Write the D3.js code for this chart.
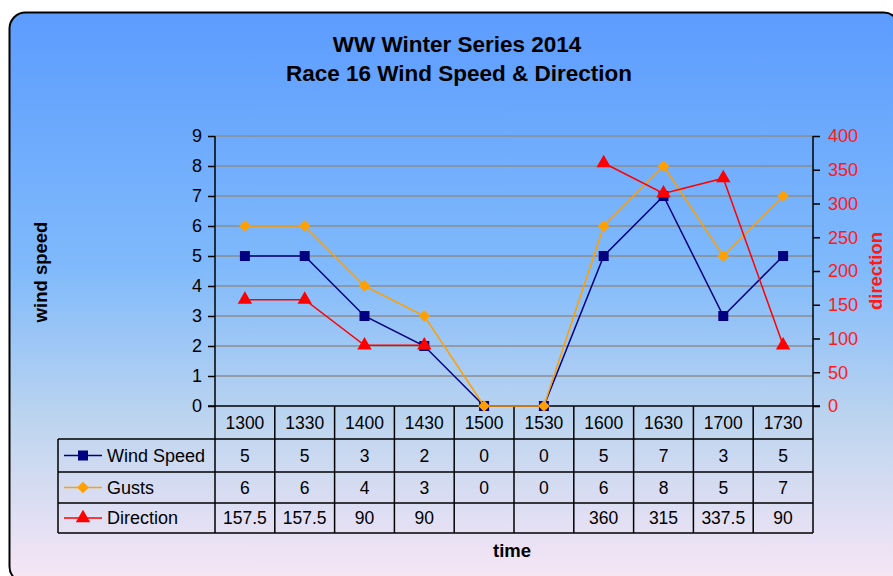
<!DOCTYPE html>
<meta charset="utf-8">
<script src="https://d3js.org/d3.v7.min.js"></script>
<style>
  body { margin: 0; background: #fff; }
  text { font-family: Arial, "Liberation Sans", sans-serif; }
</style>
<div id="chart"></div>
<script>

// data
var times = ["1300", "1330", "1400", "1430", "1500", "1530", "1600", "1630", "1700", "1730"];
var windSpeed = [5, 5, 3, 2, 0, 0, 5, 7, 3, 5];
var gusts = [6, 6, 4, 3, 0, 0, 6, 8, 5, 7];
var direction = [157.5, 157.5, 90, 90, null, null, 360, 315, 337.5, 90];
var speedTicks = [0, 1, 2, 3, 4, 5, 6, 7, 8, 9];
var dirTicks = [0, 50, 100, 150, 200, 250, 300, 350, 400];

var series = [
  { name: "Wind Speed", values: windSpeed, color: "#000080", symbol: d3.symbolSquare, size: 100, rot: 0, axis: "left" },
  { name: "Gusts", values: gusts, color: "#ff9f00", symbol: d3.symbolSquare, size: 68, rot: 45, axis: "left" },
  { name: "Direction", values: direction, color: "#ff0000", symbol: d3.symbolTriangle, size: 90, rot: 0, axis: "right" }
];

var width = 893, height = 576;
var plotL = 215, plotR = 813, plotT = 136, plotB = 406;
var rowH = [33, 33, 31, 30]; // header, wind, gusts, direction
var tableLeft = 58;

var svg = d3.select("#chart").append("svg")
  .attr("width", width)
  .attr("height", height);

// background gradient
var grad = svg.append("defs").append("linearGradient")
  .attr("id", "bg").attr("x1", 0).attr("y1", 0).attr("x2", 0).attr("y2", 1);
grad.append("stop").attr("offset", 0).attr("stop-color", "#5c9cfe");
grad.append("stop").attr("offset", 0.45).attr("stop-color", "#80bafb");
grad.append("stop").attr("offset", 0.72).attr("stop-color", "#bed5ef");
grad.append("stop").attr("offset", 1).attr("stop-color", "#f8e6f6");

svg.append("rect")
  .attr("x", 9.5).attr("y", 12.5)
  .attr("width", 890).attr("height", 570)
  .attr("rx", 16)
  .attr("fill", "url(#bg)")
  .attr("stroke", "#000")
  .attr("stroke-width", 2);

// scales
var x = d3.scaleBand().domain(times).range([plotL, plotR]);
var y = d3.scaleLinear().domain([0, 9]).range([plotB, plotT]);
var y2 = d3.scaleLinear().domain([0, 400]).range([plotB, plotT]);

// gridlines
svg.append("g")
  .selectAll("line")
  .data(speedTicks.filter(function(d) { return d > 0; }))
  .enter().append("line")
    .attr("x1", plotL).attr("x2", plotR)
    .attr("y1", function(d) { return y(d); })
    .attr("y2", function(d) { return y(d); })
    .attr("stroke", "#8c8c8c")
    .attr("stroke-width", 1.5);

// left axis
var leftAxis = svg.append("g")
  .attr("transform", "translate(" + plotL + ",0)")
  .call(d3.axisLeft(y).tickValues(speedTicks).tickSize(7).tickPadding(6));
leftAxis.select(".domain").remove();
leftAxis.selectAll("line").attr("stroke", "#000").attr("stroke-width", 1.5);
leftAxis.selectAll("text").attr("font-size", 18).attr("fill", "#000");

// right axis
var rightAxis = svg.append("g")
  .attr("transform", "translate(" + plotR + ",0)")
  .call(d3.axisRight(y2).tickValues(dirTicks).tickSize(7).tickPadding(8));
rightAxis.select(".domain").remove();
rightAxis.selectAll("line").attr("stroke", "#000").attr("stroke-width", 1.5);
rightAxis.selectAll("text").attr("font-size", 18).attr("fill", "#ff1a1a");

// table
var rowY = [plotB];
rowH.forEach(function(h, i) { rowY.push(rowY[i] + h); });
var tableBottom = rowY[rowY.length - 1];

var table = svg.append("g").attr("stroke", "#000").attr("stroke-width", 1.5);
table.append("line").attr("x1", plotL - 7).attr("x2", plotR + 7).attr("y1", plotB).attr("y2", plotB);
rowY.slice(1).forEach(function(yy) {
  table.append("line").attr("x1", tableLeft).attr("x2", plotR).attr("y1", yy).attr("y2", yy);
});
var bounds = times.map(function(t) { return x(t); }).concat([plotR]);
table.selectAll(".v").data(bounds).enter().append("line")
  .attr("x1", function(d) { return d; }).attr("x2", function(d) { return d; })
  .attr("y1", function(d) { return (d === plotL || d === plotR) ? plotT : plotB; })
  .attr("y2", tableBottom);
table.append("line").attr("x1", tableLeft).attr("x2", tableLeft).attr("y1", rowY[1]).attr("y2", tableBottom);

// header labels
svg.append("g").selectAll("text")
  .data(times).enter().append("text")
    .attr("x", function(d) { return x(d) + x.bandwidth() / 2; })
    .attr("y", (rowY[0] + rowY[1]) / 2 + 6)
    .attr("text-anchor", "middle")
    .attr("font-size", 17.5)
    .text(function(d) { return d; });

// rows
series.forEach(function(s, i) {
  var cy = (rowY[i + 1] + rowY[i + 2]) / 2;
  var row = svg.append("g");
  row.append("line")
    .attr("x1", 64).attr("x2", 102).attr("y1", cy).attr("y2", cy)
    .attr("stroke", s.color).attr("stroke-width", 1.5);
  row.append("path")
    .attr("d", d3.symbol().type(s.symbol).size(s.size))
    .attr("transform", "translate(83," + cy + ") rotate(" + s.rot + ")")
    .attr("fill", s.color);
  row.append("text")
    .attr("x", 107).attr("y", cy + 6)
    .attr("font-size", 18)
    .text(s.name);
  row.selectAll(".val").data(s.values).enter().append("text")
    .attr("x", function(d, j) { return x(times[j]) + x.bandwidth() / 2; })
    .attr("y", cy + 6)
    .attr("text-anchor", "middle")
    .attr("font-size", 17.5)
    .text(function(d) { return d == null ? "" : d; });
});

// lines and markers
series.forEach(function(s) {
  var sc = s.axis === "left" ? y : y2;
  var line = d3.line()
    .defined(function(d) { return d != null; })
    .x(function(d, j) { return x(times[j]) + x.bandwidth() / 2; })
    .y(function(d) { return sc(d); });
  svg.append("path")
    .datum(s.values)
    .attr("d", line)
    .attr("fill", "none")
    .attr("stroke", s.color)
    .attr("stroke-width", 1.5);
  svg.append("g").selectAll("path")
    .data(s.values.map(function(d, j) { return { v: d, t: times[j] }; }).filter(function(d) { return d.v != null; }))
    .enter().append("path")
      .attr("d", d3.symbol().type(s.symbol).size(s.size))
      .attr("transform", function(d) {
        return "translate(" + (x(d.t) + x.bandwidth() / 2) + "," + sc(d.v) + ") rotate(" + s.rot + ")";
      })
      .attr("fill", s.color);
});

// titles
svg.append("text")
  .attr("x", 457).attr("y", 52)
  .attr("text-anchor", "middle").attr("font-size", 22.5).attr("font-weight", "bold")
  .text("WW Winter Series 2014");
svg.append("text")
  .attr("x", 459).attr("y", 81)
  .attr("text-anchor", "middle").attr("font-size", 22.5).attr("font-weight", "bold")
  .text("Race 16 Wind Speed & Direction");

svg.append("text")
  .attr("transform", "translate(47,272) rotate(-90)")
  .attr("text-anchor", "middle").attr("font-size", 18.5).attr("font-weight", "bold")
  .text("wind speed");
svg.append("text")
  .attr("transform", "translate(882,271) rotate(-90)")
  .attr("text-anchor", "middle").attr("font-size", 18.5).attr("font-weight", "bold")
  .attr("fill", "#ff1a1a")
  .text("direction");
svg.append("text")
  .attr("x", 512).attr("y", 557)
  .attr("text-anchor", "middle").attr("font-size", 18.5).attr("font-weight", "bold")
  .text("time");

</script>
